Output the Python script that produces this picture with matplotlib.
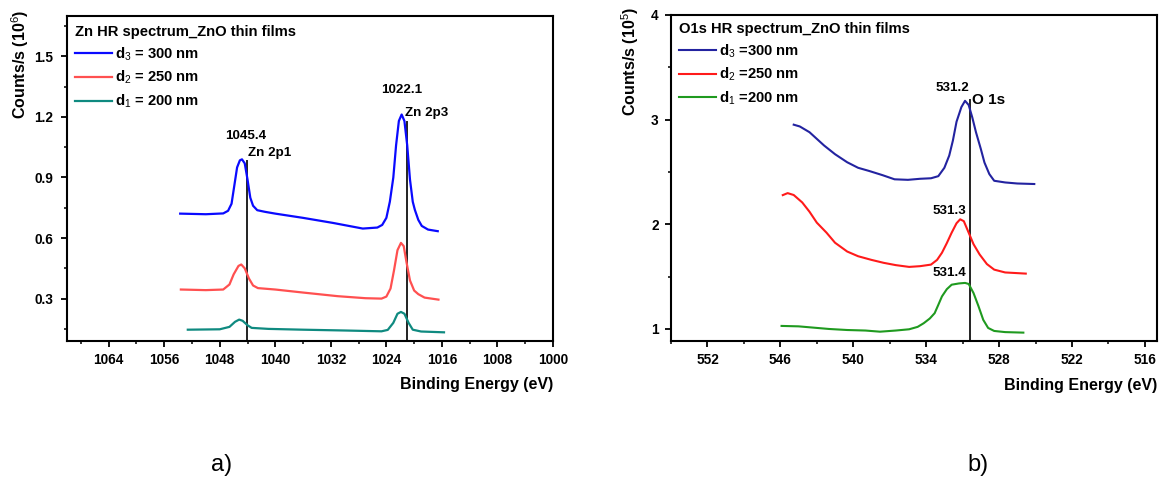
import numpy as np
import matplotlib
matplotlib.use("Agg")
import matplotlib.pyplot as plt
from matplotlib.ticker import MultipleLocator

plt.rcParams['font.family'] = ['Liberation Sans', 'DejaVu Sans']
plt.rcParams['mathtext.fontset'] = 'custom'
plt.rcParams['mathtext.rm'] = 'Liberation Sans'
plt.rcParams['mathtext.bf'] = 'Liberation Sans:bold'
plt.rcParams['mathtext.it'] = 'Liberation Sans:italic'

# ---------------- Panel a) Zn 2p ----------------
zn_d3_E = [1053.7, 1050, 1047.5, 1046.8, 1046.3, 1045.9, 1045.5, 1045.1, 1044.8, 1044.4,
           1044.0, 1043.6, 1043.2, 1042.6, 1041.5, 1040, 1036, 1031.7, 1027.4, 1025.3,
           1024.6, 1024.0, 1023.5, 1023.0, 1022.6, 1022.2, 1021.8, 1021.4, 1021.0, 1020.6,
           1020.2, 1019.9, 1019.4, 1018.9, 1018.0, 1016.6]
zn_d3_I = [0.721, 0.718, 0.722, 0.735, 0.77, 0.86, 0.95, 0.985, 0.99, 0.97,
           0.89, 0.80, 0.76, 0.738, 0.73, 0.721, 0.70, 0.675, 0.647, 0.652,
           0.665, 0.70, 0.78, 0.90, 1.06, 1.18, 1.212, 1.18, 1.06, 0.89,
           0.78, 0.74, 0.69, 0.66, 0.642, 0.634]

zn_d2_E = [1053.6, 1050, 1047.5, 1046.6, 1046.0, 1045.3, 1044.9, 1044.4, 1043.8, 1043.2,
           1042.5, 1040, 1036, 1031, 1027, 1024.7, 1024.0, 1023.4, 1022.9, 1022.4,
           1021.9, 1021.5, 1021.1, 1020.6, 1020.0, 1019.4, 1018.5, 1016.5]
zn_d2_I = [0.345, 0.342, 0.345, 0.37, 0.42, 0.462, 0.469, 0.45, 0.40, 0.365,
           0.352, 0.345, 0.33, 0.312, 0.302, 0.300, 0.31, 0.35, 0.44, 0.54,
           0.576, 0.56, 0.48, 0.39, 0.34, 0.322, 0.305, 0.295]

zn_d1_E = [1052.6, 1048, 1046.6, 1045.8, 1045.2, 1044.7, 1044.0, 1043.4, 1041, 1036,
           1030, 1024.7, 1023.8, 1023.0, 1022.4, 1021.9, 1021.4, 1020.8, 1020.2, 1019.0,
           1015.7]
zn_d1_I = [0.146, 0.148, 0.16, 0.185, 0.196, 0.19, 0.168, 0.155, 0.15, 0.146,
           0.142, 0.138, 0.145, 0.18, 0.225, 0.234, 0.225, 0.18, 0.146, 0.137,
           0.133]

zn_labels = ["d$_3$ = 300 nm", "d$_2$ = 250 nm", "d$_1$ = 200 nm"]
zn_title = "Zn HR spectrum_ZnO thin films"
zn_lines_E = [1044.1, 1021.0]
zn_lines_top = [0.984, 1.176]
zn_xticks = [1064, 1056, 1048, 1040, 1032, 1024, 1016, 1008, 1000]
zn_yticks = [0.3, 0.6, 0.9, 1.2, 1.5]

# ---------------- Panel b) O 1s ----------------
o_d3_E = [544.9, 544.4, 543.6, 542.4, 541.5, 540.5, 539.6, 538.7, 537.6, 536.6,
          535.5, 534.5, 533.6, 533.0, 532.5, 532.1, 531.8, 531.5, 531.1, 530.8,
          530.5, 530.2, 529.9, 529.5, 529.2, 528.8, 528.4, 527.5, 526.5, 525.1]
o_d3_I = [2.952, 2.935, 2.88, 2.753, 2.67, 2.593, 2.54, 2.51, 2.47, 2.43,
          2.425, 2.435, 2.44, 2.46, 2.54, 2.657, 2.80, 2.98, 3.12, 3.18,
          3.14, 3.02, 2.88, 2.72, 2.59, 2.48, 2.416, 2.40, 2.39, 2.385]

o_d2_E = [545.8, 545.4, 544.9, 544.2, 543.6, 543.0, 542.2, 541.5, 540.5, 539.6,
          538.5, 537.5, 536.5, 535.4, 534.5, 533.6, 533.1, 532.7, 532.3, 531.9,
          531.5, 531.2, 530.9, 530.5, 530.1, 529.6, 529.0, 528.4, 527.5, 525.8]
o_d2_I = [2.279, 2.298, 2.28, 2.209, 2.12, 2.016, 1.92, 1.824, 1.74, 1.695,
          1.66, 1.632, 1.61, 1.593, 1.60, 1.615, 1.66, 1.728, 1.82, 1.92,
          2.01, 2.048, 2.03, 1.92, 1.81, 1.712, 1.62, 1.567, 1.54, 1.529]

o_d1_E = [545.9, 544.5, 543.6, 542, 540.5, 539, 537.8, 536.5, 535.4, 534.7,
          534.2, 533.7, 533.3, 533.0, 532.7, 532.3, 531.9, 531.3, 530.8, 530.5,
          530.1, 529.7, 529.3, 528.9, 528.4, 527.5, 526.0]
o_d1_I = [1.029, 1.025, 1.016, 1.00, 0.99, 0.985, 0.974, 0.985, 0.997, 1.02,
          1.055, 1.10, 1.151, 1.23, 1.311, 1.38, 1.423, 1.435, 1.44, 1.43,
          1.343, 1.22, 1.087, 1.01, 0.981, 0.97, 0.965]

o_labels = ["d$_3$ =300 nm", "d$_2$ =250 nm", "d$_1$ =200 nm"]
o_title = "O1s HR spectrum_ZnO thin films"
o_line_E = 530.4
o_line_top = 3.186
o_xticks = [552, 546, 540, 534, 528, 522, 516]
o_yticks = [1, 2, 3, 4]

# ---------------- Figure ----------------
W, H = 1167, 479
fig = plt.figure(figsize=(W / 100, H / 100), dpi=100)

def frac_box(x0, x1, ytop, ybot):
    return [x0 / W, 1 - ybot / H, (x1 - x0) / W, (ybot - ytop) / H]

axA = fig.add_axes(frac_box(67, 553, 16, 341))
axB = fig.add_axes(frac_box(671, 1157, 15, 341))

TICK_FS = 9.8
LEG_FS = 10.6
LAB_FS = 11.5
ANN_FS = 9.6

def style_axes(ax):
    for s in ax.spines.values():
        s.set_linewidth(1.5)
        s.set_color('black')
    ax.tick_params(which='major', direction='out', length=4, width=1.3,
                   labelsize=TICK_FS, top=False, right=False)
    ax.tick_params(which='minor', direction='out', length=2.5, width=1.1,
                   top=False, right=False)
    ax.tick_params(axis='y', which='major', pad=6)
    ax.tick_params(axis='x', which='major', pad=5)
    for lab in ax.get_xticklabels() + ax.get_yticklabels():
        lab.set_fontweight('bold')

def make_legend(ax, title, ytop):
    return ax.legend(title=title, loc='upper left', bbox_to_anchor=(-0.005, ytop),
                     frameon=False, prop={'weight': 'bold', 'size': LEG_FS},
                     title_fontproperties={'weight': 'bold', 'size': LEG_FS},
                     handlelength=2.5, handletextpad=0.2, labelspacing=0.42,
                     borderpad=0.2, alignment='left')

# Panel a
axA.plot(zn_d3_E, zn_d3_I, color='#0a0aff', lw=1.6, label=zn_labels[0])
axA.plot(zn_d2_E, zn_d2_I, color='#ff5050', lw=1.6, label=zn_labels[1])
axA.plot(zn_d1_E, zn_d1_I, color='#0f8a80', lw=1.6, label=zn_labels[2])
axA.set_xlim(1070, 1000)
axA.set_ylim(0.09, 1.70)
for xe, yt in zip(zn_lines_E, zn_lines_top):
    axA.plot([xe, xe], [0.09, yt], color='#222222', lw=1.4, zorder=1)
axA.set_xticks(zn_xticks)
axA.set_yticks(zn_yticks)
axA.xaxis.set_minor_locator(MultipleLocator(4))
axA.yaxis.set_minor_locator(MultipleLocator(0.15))
axA.set_yticklabels([f"{v:.1f}" for v in zn_yticks])
style_axes(axA)
axA.text(1044.2, 1.105, "1045.4", ha='center', va='center', fontsize=ANN_FS, fontweight='bold')
axA.text(1044.0, 1.019, "Zn 2p1", ha='left', va='center', fontsize=ANN_FS, fontweight='bold')
axA.text(1021.8, 1.333, "1022.1", ha='center', va='center', fontsize=ANN_FS, fontweight='bold')
axA.text(1021.3, 1.221, "Zn 2p3", ha='left', va='center', fontsize=ANN_FS, fontweight='bold')
make_legend(axA, zn_title, 1.003)
axA.set_ylabel("Counts/s (10$^{6}$)", fontsize=LAB_FS, fontweight='bold')
axA.yaxis.set_label_coords(-0.097, 0.852)
axA.yaxis.label.set_va('center')
axA.set_xlabel("Binding Energy (eV)", fontsize=LAB_FS, fontweight='bold')
axA.xaxis.set_label_coords(1.0, -0.135)
axA.xaxis.label.set_ha('right')
axA.xaxis.label.set_va('center')

# Panel b
axB.plot(o_d3_E, o_d3_I, color='#2323a0', lw=1.5, label=o_labels[0])
axB.plot(o_d2_E, o_d2_I, color='#ff1a1a', lw=1.5, label=o_labels[1])
axB.plot(o_d1_E, o_d1_I, color='#1f9a1f', lw=1.5, label=o_labels[2])
axB.set_xlim(555, 515)
axB.set_ylim(0.885, 4.0)
axB.plot([o_line_E, o_line_E], [0.885, o_line_top], color='#222222', lw=1.4, zorder=1)
axB.set_xticks(o_xticks)
axB.set_yticks(o_yticks)
axB.xaxis.set_minor_locator(MultipleLocator(3))
axB.yaxis.set_minor_locator(MultipleLocator(0.5))
style_axes(axB)
axB.tick_params(axis='y', which='major', pad=5)
axB.text(531.8, 3.30, "531.2", ha='center', va='center', fontsize=ANN_FS, fontweight='bold')
axB.text(530.2, 3.19, "O 1s", ha='left', va='center', fontsize=11, fontweight='bold')
axB.text(532.1, 2.128, "531.3", ha='center', va='center', fontsize=ANN_FS, fontweight='bold')
axB.text(532.1, 1.535, "531.4", ha='center', va='center', fontsize=ANN_FS, fontweight='bold')
make_legend(axB, o_title, 1.01)
axB.set_ylabel("Counts/s (10$^{5}$)", fontsize=LAB_FS, fontweight='bold')
axB.yaxis.set_label_coords(-0.084, 0.858)
axB.yaxis.label.set_va('center')
axB.set_xlabel("Binding Energy (eV)", fontsize=LAB_FS, fontweight='bold')
axB.xaxis.set_label_coords(1.0, -0.135)
axB.xaxis.label.set_ha('right')
axB.xaxis.label.set_va('center')

fig.text(222 / W, 1 - 465 / H, "a)", ha='center', va='center', fontsize=17)
fig.text(978 / W, 1 - 465 / H, "b)", ha='center', va='center', fontsize=17)

fig.savefig("out.png", dpi=100)
